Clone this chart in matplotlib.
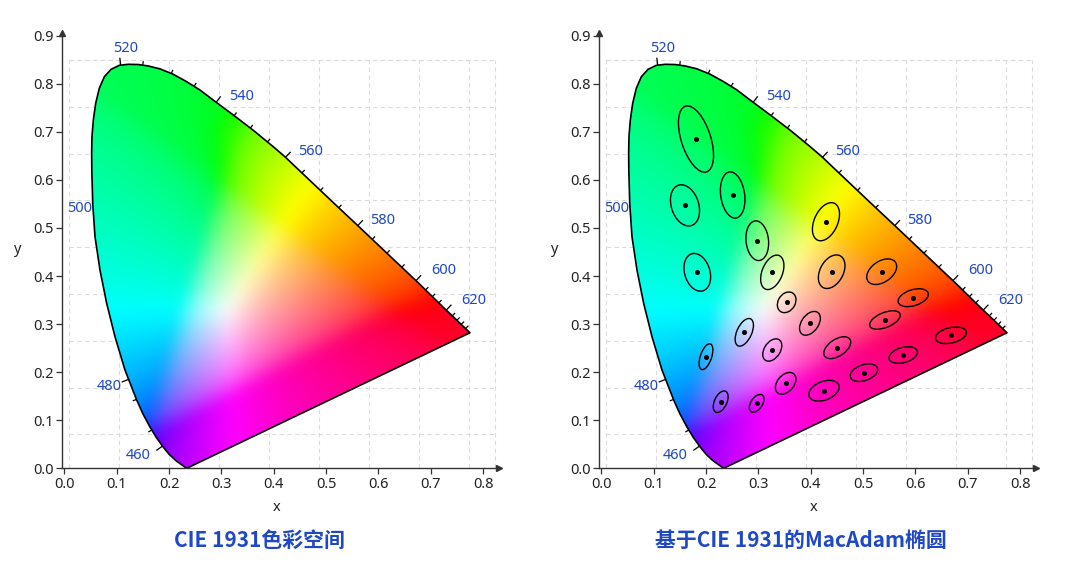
import numpy as np
import matplotlib
matplotlib.use("Agg")
import matplotlib.pyplot as plt
from matplotlib.patches import Polygon, Ellipse

plt.rcParams['font.family'] = ['Noto Sans', 'Noto Sans CJK SC', 'DejaVu Sans']

# spectral locus as drawn, from the violet corner round to the red corner
locus_x = [0.2335, 0.214, 0.200, 0.188, 0.175, 0.163, 0.150, 0.138, 0.1156, 0.0965,
           0.0806, 0.0678, 0.0583, 0.054, 0.0522, 0.0519, 0.0525, 0.0551, 0.0596, 0.0665,
           0.0761, 0.0889, 0.1047, 0.1219, 0.1410, 0.1601, 0.1825, 0.2079, 0.2335, 0.2590,
           0.2843, 0.3226, 0.361, 0.399, 0.4214, 0.4533, 0.4882, 0.5232, 0.5614, 0.6157,
           0.676, 0.7239, 0.7749]
locus_y = [0.000, 0.015, 0.029, 0.045, 0.065, 0.0866, 0.113, 0.142, 0.2045, 0.2738,
           0.3432, 0.4125, 0.4818, 0.55, 0.6206, 0.6553, 0.690, 0.7246, 0.7593, 0.7905,
           0.8146, 0.830, 0.8384, 0.8405, 0.8400, 0.8370, 0.8310, 0.8197, 0.8043, 0.7870,
           0.766, 0.735, 0.703, 0.669, 0.648, 0.615, 0.579, 0.543, 0.504, 0.448,
           0.386, 0.335, 0.282]

# wavelength ticks on the locus (nm, x, y)
tick_nm = [460, 465, 470, 480, 520, 525, 530, 535, 540, 545, 550, 555, 560, 565, 570,
           575, 580, 585, 590, 595, 600, 605, 610, 615, 620, 625, 630, 635, 640]
tick_x = [0.1857, 0.1666, 0.138, 0.1226, 0.1074, 0.1494, 0.203, 0.245, 0.2908, 0.3226,
          0.3532, 0.3864, 0.4214, 0.4533, 0.4882, 0.5232, 0.5614, 0.587, 0.6157, 0.6444,
          0.674, 0.690, 0.703, 0.716, 0.733, 0.741, 0.750, 0.758, 0.766]
tick_y = [0.045, 0.0796, 0.1435, 0.185, 0.838, 0.838, 0.818, 0.790, 0.7627, 0.7314,
          0.705, 0.677, 0.646, 0.614, 0.577, 0.541, 0.506, 0.475, 0.447, 0.418,
          0.393, 0.371, 0.357, 0.345, 0.333, 0.317, 0.308, 0.299, 0.290]
major_nm = [460, 480, 520, 540, 560, 580, 600, 620]

label_nm = [460, 480, 500, 520, 540, 560, 580, 600, 620]
label_x = [0.140, 0.085, 0.0283, 0.1175, 0.3386, 0.471, 0.6073, 0.7252, 0.7825]
label_y = [0.026, 0.170, 0.541, 0.8737, 0.7745, 0.6586, 0.5165, 0.411, 0.350]

# MacAdam ellipses: centre, semi-axes, angle (deg)
ell_x = [0.1806, 0.1596, 0.2507, 0.2977, 0.4290, 0.1831, 0.3264, 0.4399, 0.3539, 0.2729,
         0.3984, 0.1997, 0.3264, 0.4506, 0.3520, 0.4252, 0.2278, 0.2966, 0.5355, 0.5958,
         0.5418, 0.6679, 0.5767, 0.5016]
ell_y = [0.685, 0.547, 0.5686, 0.4735, 0.5130, 0.4077, 0.4077, 0.4090, 0.3453, 0.2829,
         0.3016, 0.2322, 0.2461, 0.2509, 0.1768, 0.1614, 0.1385, 0.1352, 0.4090, 0.3549,
         0.3085, 0.2767, 0.2357, 0.1989]
ell_a = [0.0713, 0.0438, 0.0484, 0.0414, 0.0416, 0.0400, 0.0373, 0.0369, 0.0225, 0.0305,
         0.0271, 0.0279, 0.0251, 0.0299, 0.0251, 0.0307, 0.0237, 0.0203, 0.0329, 0.0301,
         0.0315, 0.0303, 0.0281, 0.0275]
ell_b = [0.0283, 0.0263, 0.0229, 0.0215, 0.0227, 0.0243, 0.0197, 0.0225, 0.0165, 0.0143,
         0.0165, 0.0108, 0.0155, 0.0169, 0.0163, 0.0191, 0.0120, 0.0112, 0.0211, 0.0165,
         0.0153, 0.0159, 0.0157, 0.0163]
ell_ang = [106, 105, 97, 95, 69, 104, 71, 66, 64, 68, 59, 73, 61, 38, 55, 25, 68, 60,
           40, 20, 25, 15, 18, 22]

titles = ['CIE 1931色彩空间', '基于CIE 1931的MacAdam椭圆']

BLUE = '#1f48c4'
AXC = '#333333'


def blur(img, sigma):
    r = int(3 * sigma)
    k = np.exp(-0.5 * (np.arange(-r, r + 1) / sigma) ** 2)
    k /= k.sum()
    n0, n1 = img.shape[:2]
    p = np.pad(img, ((r, r), (0, 0), (0, 0)), mode='edge')
    img = sum(k[i] * p[i:i + n0] for i in range(2 * r + 1))
    p = np.pad(img, ((0, 0), (r, r), (0, 0)), mode='edge')
    img = sum(k[i] * p[:, i:i + n1] for i in range(2 * r + 1))
    return img


def gamma(c):
    return np.where(c <= 0.0031308, 12.92 * c, 1.055 * np.clip(c, 0, None) ** (1 / 2.4) - 0.055)


def chroma_rgb(n=500):
    xs = np.linspace(0, 0.8, n)
    ys = np.linspace(0, 0.86, n)
    X, Y = np.meshgrid(xs, ys)
    Yc = np.clip(Y, 0.01, None)
    xyz = np.stack([X / Yc, np.ones_like(X), np.clip(1 - X - Y, 0, None) / Yc], axis=-1)
    M = np.array([[3.2406, -1.5372, -0.4986],
                  [-0.9689, 1.8758, 0.0415],
                  [0.0557, -0.2040, 1.0570]])
    rgb = xyz @ M.T
    clipped = np.clip(rgb, 0, None)
    clipped = clipped / (clipped.max(axis=-1, keepdims=True) + 1e-12)
    shifted = rgb - np.minimum(rgb.min(axis=-1, keepdims=True), 0)
    shifted = shifted / (shifted.max(axis=-1, keepdims=True) + 1e-12)
    out = 0.5 * (gamma(clipped) + gamma(shifted))
    return np.clip(blur(out, 9), 0, 1)


def nearest_on_curve(px, py, pts):
    best = None
    for i in range(len(pts) - 1):
        p0, p1 = pts[i], pts[i + 1]
        d = p1 - p0
        t = np.clip(np.dot(np.array([px, py]) - p0, d) / np.dot(d, d), 0, 1)
        q = p0 + t * d
        dist = np.hypot(*(q - [px, py]))
        if best is None or dist < best[0]:
            best = (dist, q, d)
    return best[1], best[2]


def draw_diagram(ax, rgb):
    ax.set_xlim(-0.004, 0.83)
    ax.set_ylim(0, 0.905)

    # dashed background grid
    gx = np.arange(0.0086, 0.78, 0.0955)
    gy = np.arange(0.0705, 0.86, 0.0974)
    for v in list(gx) + [0.823]:
        ax.plot([v, v], [0, 0.849], color='#dcdcdc', lw=0.8, ls=(0, (4, 3)), zorder=0)
    for h in list(gy) + [0.849]:
        ax.plot([0.0086, 0.823], [h, h], color='#dcdcdc', lw=0.8, ls=(0, (4, 3)), zorder=0)

    poly = Polygon(np.column_stack([locus_x, locus_y]), closed=True,
                   facecolor='none', edgecolor='black', lw=1.2, zorder=3,
                   joinstyle='round')
    ax.add_patch(poly)
    im = ax.imshow(rgb, extent=[0, 0.8, 0, 0.86], origin='lower',
                   interpolation='bilinear', aspect='auto', zorder=1)
    im.set_clip_path(poly)

    # wavelength ticks, drawn outward in pixel space
    pts_disp = ax.transData.transform(np.column_stack([locus_x, locus_y]))
    cen = ax.transData.transform([0.33, 0.33])
    inv = ax.transData.inverted()
    for nm, tx, ty in zip(tick_nm, tick_x, tick_y):
        p = ax.transData.transform([tx, ty])
        q, d = nearest_on_curve(p[0], p[1], pts_disp)
        nvec = np.array([d[1], -d[0]]) / np.hypot(*d)
        if np.dot(nvec, q - cen) < 0:
            nvec = -nvec
        length = 7.5 if nm in major_nm else 4
        seg = inv.transform(np.array([q, q + nvec * length]))
        ax.plot(seg[:, 0], seg[:, 1], color='black', lw=0.9, zorder=4,
                solid_capstyle='butt')

    for nm, lx, ly in zip(label_nm, label_x, label_y):
        ax.text(lx, ly, str(nm), color=BLUE, fontsize=10.5, ha='center', va='center')

    ax.set_xticks(np.arange(0, 0.81, 0.1))
    ax.set_yticks(np.arange(0, 0.91, 0.1))
    ax.set_xticklabels(['%.1f' % v for v in np.arange(0, 0.81, 0.1)])
    ax.set_yticklabels(['%.1f' % v for v in np.arange(0, 0.91, 0.1)])
    ax.tick_params(direction='out', length=4, width=0.9, color=AXC,
                   labelsize=10.5, labelcolor='#222222', pad=2)
    for s in ['top', 'right']:
        ax.spines[s].set_visible(False)
    for s in ['left', 'bottom']:
        ax.spines[s].set_color(AXC)
        ax.spines[s].set_linewidth(1.0)
    ax.plot(1.0, 0, '>', color=AXC, ms=5, transform=ax.transAxes, clip_on=False)
    ax.plot(0, 1.0, '^', color=AXC, ms=5, transform=ax.transAxes, clip_on=False)
    ax.text(0.492, -0.089, 'x', transform=ax.transAxes, ha='center', va='center',
            fontsize=10.5, color='#222222')
    ax.text(-0.104, 0.502, 'y', transform=ax.transAxes, ha='center', va='center',
            fontsize=10.5, color='#222222')


fig = plt.figure(figsize=(10.8, 5.7), dpi=100)
ax1 = fig.add_axes([0.05778, 0.17842, 0.40407, 0.76316])
ax2 = fig.add_axes([0.55500, 0.17842, 0.40407, 0.76316])

rgb = chroma_rgb()
draw_diagram(ax1, rgb)
draw_diagram(ax2, rgb)

for cx, cy, a, b, ang in zip(ell_x, ell_y, ell_a, ell_b, ell_ang):
    ax2.add_patch(Ellipse((cx, cy), 2 * a, 2 * b, angle=ang, fill=False,
                          edgecolor='black', lw=1.0, zorder=5))
ax2.plot(ell_x, ell_y, 'o', color='black', ms=2.6, zorder=6)

fig.text(0.240, 0.0526, titles[0], color=BLUE, fontsize=15, fontweight='bold',
         ha='center', va='center', family=['Noto Sans CJK SC', 'DejaVu Sans'])
fig.text(0.7417, 0.0526, titles[1], color=BLUE, fontsize=15, fontweight='bold',
         ha='center', va='center', family=['Noto Sans CJK SC', 'DejaVu Sans'])

fig.savefig('out.png', dpi=100)
